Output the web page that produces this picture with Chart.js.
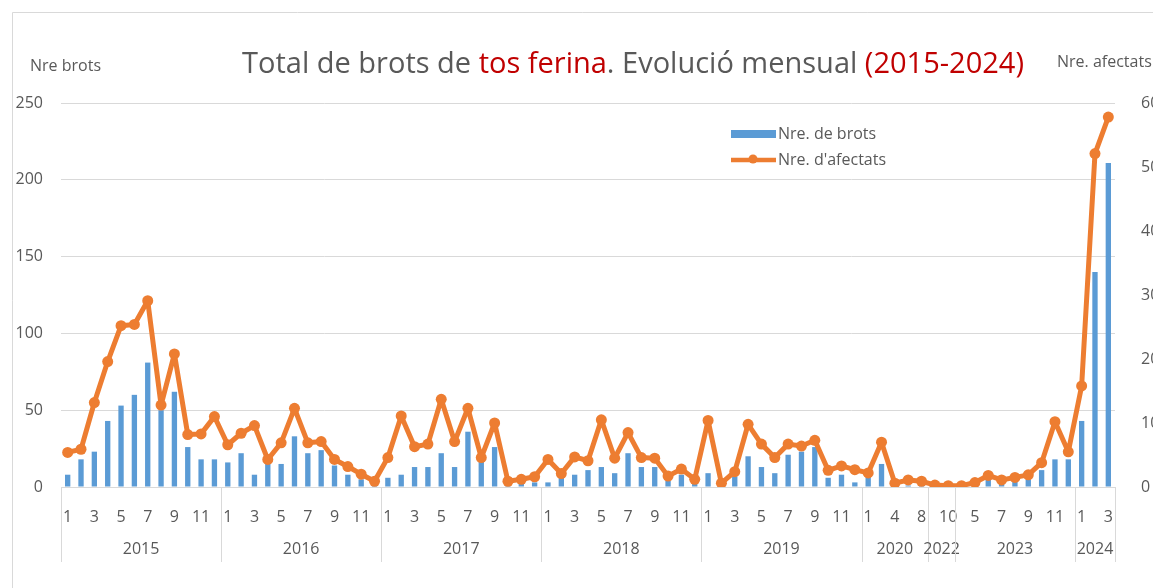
<!DOCTYPE html>
<html>
<head>
<meta charset="utf-8">
<script src="https://cdn.jsdelivr.net/npm/chart.js@4.4.1/dist/chart.umd.min.js"></script>
<style>
    html, body { margin: 0; padding: 0; background: #fff; }
    #wrap { width: 1153px; height: 588px; overflow: hidden; }
</style>
</head>
<body>
<div id="wrap"><canvas id="myChart" width="1153" height="588"></canvas></div>
<script>
// year groups on the x axis and the months they contain
var years = ['2015', '2016', '2017', '2018', '2019', '2020', '2022', '2023', '2024'];
var monthsByYear = [
    [1, 2, 3, 4, 5, 6, 7, 8, 9, 10, 11, 12],
    [1, 2, 3, 4, 5, 6, 7, 8, 9, 10, 11, 12],
    [1, 2, 3, 4, 5, 6, 7, 8, 9, 10, 11, 12],
    [1, 2, 3, 4, 5, 6, 7, 8, 9, 10, 11, 12],
    [1, 2, 3, 4, 5, 6, 7, 8, 9, 10, 11, 12],
    [1, 3, 4, 6, 8],
    [9, 10],
    [3, 5, 6, 7, 8, 9, 10, 11, 12],
    [1, 2, 3]
];

// Nre. de brots (left axis)
var brots = [
    8, 18, 23, 43, 53, 60, 81, 50, 62, 26, 18, 18,
    16, 22, 8, 15, 15, 33, 22, 24, 14, 8, 5, 2,
    6, 8, 13, 13, 22, 13, 36, 18, 26, 2, 2, 3,
    3, 7, 8, 11, 13, 9, 22, 13, 13, 4, 8, 3,
    9, 1, 7, 20, 13, 9, 21, 23, 26, 6, 8, 3,
    7, 15, 1, 1, 1,
    1, 1,
    1, 2, 5, 2, 5, 5, 11, 18, 18,
    43, 140, 211
];

// Nre. d'afectats (right axis)
var afectats = [
    54, 59, 132, 196, 252, 254, 291, 128, 208, 82, 83, 110,
    66, 84, 96, 43, 69, 123, 69, 71, 43, 32, 20, 9,
    46, 111, 63, 67, 137, 71, 123, 46, 100, 9, 12, 16,
    43, 21, 47, 41, 105, 45, 85, 46, 45, 17, 28, 12,
    104, 6, 24, 98, 67, 46, 67, 64, 73, 26, 33, 27,
    22, 70, 6, 11, 9,
    3, 2,
    2, 7, 18, 11, 15, 19, 38, 102, 55,
    158, 521, 578
];

var titleParts = [
    ['Total de brots de ', '#595959'],
    ['tos ferina', '#c00000'],
    ['. Evolució mensual ', '#595959'],
    ['(2015-2024)', '#c00000']
];

var months = [];
monthsByYear.forEach(function (m) {
    m.forEach(function (v) { months.push(String(v)); });
});

var grey = '#595959';
var gridGrey = '#d9d9d9';
var fontName = "'Open Sans', 'Noto Sans', sans-serif";

var decor = {
    id: 'decor',
    beforeDraw: function (chart) {
        var ctx = chart.ctx;
        ctx.save();
        ctx.fillStyle = '#fff';
        ctx.fillRect(0, 0, chart.width, chart.height);
        ctx.strokeStyle = gridGrey;
        ctx.lineWidth = 1;
        ctx.beginPath();
        ctx.moveTo(12.5, chart.height);
        ctx.lineTo(12.5, 12.5);
        ctx.lineTo(chart.width, 12.5);
        ctx.stroke();
        ctx.restore();
    },
    afterDraw: function (chart) {
        var ctx = chart.ctx;
        var x = chart.scales.x;
        var half = (x.getPixelForValue(1) - x.getPixelForValue(0)) / 2;
        ctx.save();

        // year groups under the month labels
        ctx.strokeStyle = gridGrey;
        ctx.lineWidth = 1;
        ctx.fillStyle = grey;
        ctx.font = '16px ' + fontName;
        ctx.textAlign = 'center';
        ctx.textBaseline = 'middle';
        var idx = 0;
        years.forEach(function (y, i) {
            var n = monthsByYear[i].length;
            var left = x.getPixelForValue(idx) - half;
            var right = x.getPixelForValue(idx + n - 1) + half;
            [left, right].forEach(function (px) {
                ctx.beginPath();
                ctx.moveTo(Math.round(px) + 0.5, x.top);
                ctx.lineTo(Math.round(px) + 0.5, x.top + 75);
                ctx.stroke();
            });
            ctx.fillText(y, (left + right) / 2, x.top + 62);
            idx += n;
        });

        // title in two colours
        ctx.font = '29px ' + fontName;
        ctx.textAlign = 'left';
        var total = 0;
        titleParts.forEach(function (p) { total += ctx.measureText(p[0]).width; });
        var tx = 633 - total / 2;
        titleParts.forEach(function (p) {
            ctx.fillStyle = p[1];
            ctx.fillText(p[0], tx, 65);
            tx += ctx.measureText(p[0]).width;
        });

        // axis titles
        ctx.font = '16px ' + fontName;
        ctx.fillStyle = grey;
        ctx.fillText('Nre brots', 30, 66);
        ctx.fillText('Nre. afectats', 1057, 62);

        // legend
        var bars = chart.data.datasets[1];
        var line = chart.data.datasets[0];
        ctx.fillStyle = bars.backgroundColor;
        ctx.fillRect(731, 130, 45, 8);
        ctx.strokeStyle = line.borderColor;
        ctx.lineWidth = 4.5;
        ctx.beginPath();
        ctx.moveTo(731, 160);
        ctx.lineTo(776, 160);
        ctx.stroke();
        ctx.fillStyle = line.borderColor;
        ctx.beginPath();
        ctx.arc(753, 159, 4.5, 0, Math.PI * 2);
        ctx.fill();
        ctx.fillStyle = grey;
        ctx.fillText(bars.label, 778, 134);
        ctx.fillText(line.label, 778, 160);

        ctx.restore();
    }
};

var ctx = document.getElementById('myChart').getContext('2d');
var config = {
    type: 'bar',
    data: {
        labels: months,
        datasets: [{
            type: 'line',
            label: "Nre. d'afectats",
            data: afectats,
            yAxisID: 'y1',
            borderColor: '#ed7d31',
            backgroundColor: '#ed7d31',
            borderWidth: 5,
            borderJoinStyle: 'round',
            borderCapStyle: 'round',
            pointRadius: 5.5,
            pointBorderWidth: 0,
            pointBackgroundColor: '#ed7d31',
            tension: 0,
            order: 1
        }, {
            label: 'Nre. de brots',
            data: brots,
            yAxisID: 'y',
            backgroundColor: '#5b9bd5',
            barPercentage: 0.4,
            categoryPercentage: 1,
            order: 2
        }]
    },
    options: {
        responsive: false,
        animation: false,
        devicePixelRatio: 1,
        layout: { padding: { top: 103, left: 0, right: 0, bottom: 0 } },
        plugins: {
            legend: { display: false },
            title: { display: false },
            tooltip: { enabled: false }
        },
        scales: {
            x: {
                grid: { display: false },
                border: { display: true, color: gridGrey },
                ticks: {
                    autoSkip: false,
                    maxRotation: 0,
                    padding: 13,
                    color: grey,
                    font: { family: fontName, size: 16 },
                    callback: function (v, i) { return i % 2 === 0 ? months[i] : ''; }
                },
                afterFit: function (s) { s.height = 101; }
            },
            y: {
                position: 'left',
                min: 0,
                max: 250,
                grid: { color: gridGrey, drawTicks: false },
                border: { display: false },
                ticks: {
                    stepSize: 50,
                    padding: 18,
                    color: grey,
                    font: { family: fontName, size: 16 }
                },
                afterFit: function (s) { s.width = 61; }
            },
            y1: {
                position: 'right',
                min: 0,
                max: 600,
                grid: { display: false },
                border: { display: false },
                ticks: {
                    stepSize: 100,
                    padding: 18,
                    color: grey,
                    font: { family: fontName, size: 16 }
                },
                afterFit: function (s) { s.width = 38; }
            }
        }
    },
    plugins: [decor]
};

var chart = new Chart(ctx, config);
</script>
</body>
</html>
